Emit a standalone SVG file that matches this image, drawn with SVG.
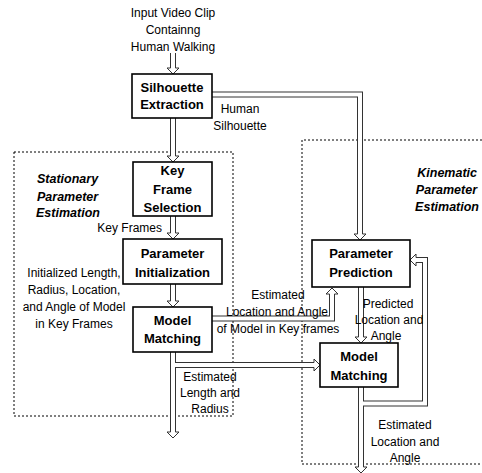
<svg xmlns="http://www.w3.org/2000/svg" xmlns:xlink="http://www.w3.org/1999/xlink" width="482" height="473" viewBox="0 0 482 473">
<style>
  .box{fill:#fff;stroke:#000;stroke-width:1.6}
  .bl{font-family:"Liberation Sans",Arial,sans-serif;font-size:13px;font-weight:bold;text-anchor:middle;fill:#000}
  .t{font-family:"Liberation Sans",Arial,sans-serif;font-size:12px;fill:#000}
  .c{text-anchor:middle}
  .r{text-anchor:end}
  .it{font-family:"Liberation Sans",Arial,sans-serif;font-size:12.5px;font-weight:bold;font-style:italic;fill:#000}
  .dash{fill:none;stroke:#000;stroke-width:1;stroke-dasharray:2,2}
  .sh-o{fill:none;stroke:#333;stroke-width:6;stroke-linejoin:miter}
  .sh-i{fill:none;stroke:#fff;stroke-width:4;stroke-linejoin:miter}
  .hd{fill:#fff;stroke:#333;stroke-width:1}
</style>
<defs>
  <polyline id="hd" class="hd" points="-2.5,-6 -6,-6 0,0 6,-6 2.5,-6"/>
</defs>
<rect width="482" height="473" fill="#fff"/>

<g id="regions">
  <rect id="stationary" class="dash" x="14" y="152" width="219" height="264"/>
  <path id="kinematic" class="dash" d="M482,140 H302 V464 H482"/>
  <g class="it">
    <text x="37" y="182.5">Stationary</text>
    <text x="37" y="200.5">Parameter</text>
    <text x="36" y="216.5">Estimation</text>
  </g>
  <g class="it" text-anchor="end">
    <text x="477" y="176.5">Kinematic</text>
    <text x="477" y="193.5">Parameter</text>
    <text x="479" y="210.5">Estimation</text>
  </g>
</g>

<g id="connectors">
  <g class="sh-o">
    <path d="M173,53 V68"/>
    <path d="M173,118 V156"/>
    <path d="M173,216 V233"/>
    <path d="M173,284 V301"/>
    <path d="M173,352 V432"/>
    <path d="M212,94.5 H360 V234"/>
    <path d="M173,365 H314"/>
    <path d="M212,318.5 H332 V294"/>
    <path d="M361,287 V337"/>
    <path d="M361,387 V467"/>
    <path d="M361,403.5 H425 V260 H416"/>
  </g>
  <g class="sh-i">
    <path d="M173,53 V68"/>
    <path d="M173,118 V156"/>
    <path d="M173,216 V233"/>
    <path d="M173,284 V301"/>
    <path d="M173,352 V432"/>
    <path d="M212,94.5 H360 V234"/>
    <path d="M173,365 H314"/>
    <path d="M212,318.5 H332 V294"/>
    <path d="M361,287 V337"/>
    <path d="M361,387 V467"/>
    <path d="M361,403.5 H425 V260 H416"/>
  </g>
  <use xlink:href="#hd" transform="translate(173,74)"/>
  <use xlink:href="#hd" transform="translate(173,162)"/>
  <use xlink:href="#hd" transform="translate(173,239)"/>
  <use xlink:href="#hd" transform="translate(173,307)"/>
  <use xlink:href="#hd" transform="translate(173,438)"/>
  <use xlink:href="#hd" transform="translate(360,240)"/>
  <use xlink:href="#hd" transform="translate(320,365) rotate(-90)"/>
  <use xlink:href="#hd" transform="translate(332,288) rotate(180)"/>
  <use xlink:href="#hd" transform="translate(361,343)"/>
  <use xlink:href="#hd" transform="translate(361,473)"/>
  <use xlink:href="#hd" transform="translate(410,260) rotate(90)"/>
</g>

<g id="labels">
  <g class="t c">
    <text x="173" y="17">Input Video Clip</text>
    <text x="173" y="34">Containng</text>
    <text x="173" y="51">Human Walking</text>
    <text x="240" y="113">Human</text>
    <text x="240" y="130">Silhouette</text>
    <text x="74" y="276.5">Initialized Length,</text>
    <text x="74" y="293.5">Radius, Location,</text>
    <text x="74" y="310.5">and Angle of Model</text>
    <text x="74" y="327.5">in Key Frames</text>
    <text x="278" y="298.5">Estimated</text>
    <text x="277" y="316">Location and Angle</text>
    <text x="278" y="332.5">of Model in Key frames</text>
    <text x="210" y="381">Estimated</text>
    <text x="210" y="397">Length and</text>
    <text x="210" y="413">Radius</text>
    <text x="388" y="307.5">Predicted</text>
    <text x="389" y="323.5">Location and</text>
    <text x="386" y="339.5">Angle</text>
    <text x="405" y="428.5">Estimated</text>
    <text x="405" y="445.5">Location and</text>
    <text x="405" y="461.5">Angle</text>
  </g>
  <text class="t r" x="162" y="232">Key Frames</text>
</g>

<g id="silhouette-extraction">
  <rect class="box" x="132" y="74" width="80" height="44"/>
  <text class="bl" x="172" y="92">Silhouette</text>
  <text class="bl" x="172" y="108.5">Extraction</text>
</g>
<g id="key-frame-selection">
  <rect class="box" x="133" y="162" width="79" height="54"/>
  <text class="bl" x="172.5" y="174.5">Key</text>
  <text class="bl" x="172.5" y="193.5">Frame</text>
  <text class="bl" x="172.5" y="212">Selection</text>
</g>
<g id="parameter-initialization">
  <rect class="box" x="123" y="239" width="99" height="45"/>
  <text class="bl" x="172.5" y="257.5">Parameter</text>
  <text class="bl" x="172.5" y="277">Initialization</text>
</g>
<g id="model-matching-left">
  <rect class="box" x="133" y="307" width="79" height="45"/>
  <text class="bl" x="172.5" y="324.5">Model</text>
  <text class="bl" x="172.5" y="343">Matching</text>
</g>
<g id="parameter-prediction">
  <rect class="box" x="312" y="240" width="98" height="47"/>
  <text class="bl" x="361" y="258">Parameter</text>
  <text class="bl" x="361" y="277">Prediction</text>
</g>
<g id="model-matching-right">
  <rect class="box" x="320" y="343" width="78" height="44"/>
  <text class="bl" x="359" y="361">Model</text>
  <text class="bl" x="359" y="380">Matching</text>
</g>
</svg>
